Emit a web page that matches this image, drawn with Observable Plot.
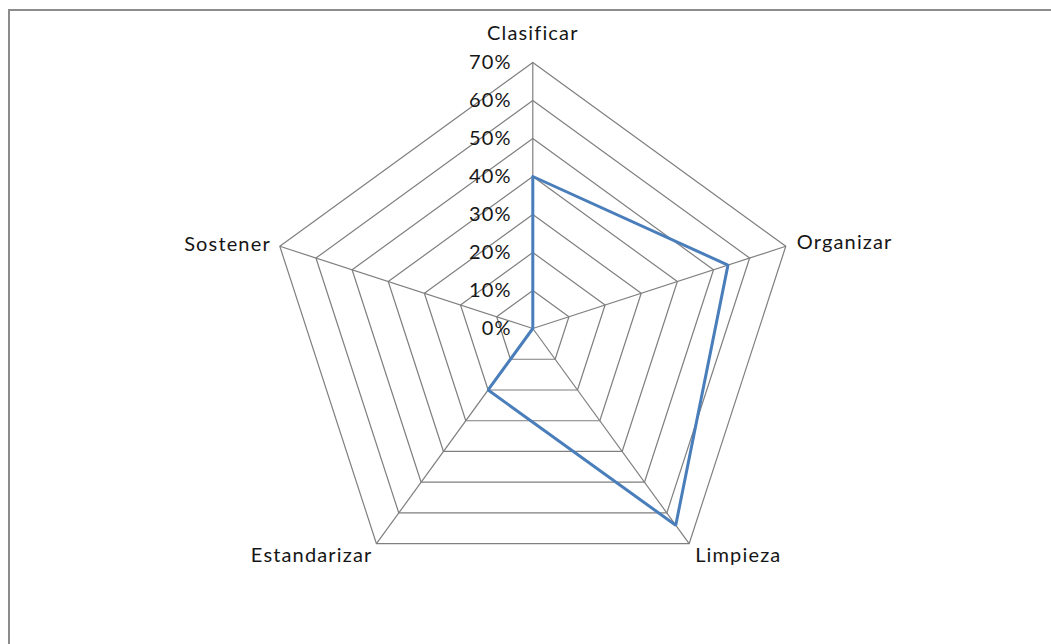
<!DOCTYPE html>
<html>
<head>
<meta charset="utf-8">
<script src="https://cdn.jsdelivr.net/npm/d3@7"></script>
<script src="https://cdn.jsdelivr.net/npm/@observablehq/plot@0.6"></script>
<style>
  html, body { margin: 0; padding: 0; background: #fff; }
  #chart svg { display: block; }
</style>
</head>
<body>
<div id="chart"></div>
<script>
// Radar chart: 5S audit results per pillar
const categories = ["Clasificar", "Organizar", "Limpieza", "Estandarizar", "Sostener"];
const values = [0.40, 0.54, 0.64, 0.20, 0.00];
const ringLevels = [0, 0.1, 0.2, 0.3, 0.4, 0.5, 0.6, 0.7];
const ringLabels = ["0%", "10%", "20%", "30%", "40%", "50%", "60%", "70%"];

// Layout
const W = 1051, H = 644;
const cx = 532.3, cy = 328, radiusPx = 266, maxValue = 0.7;
const k = radiusPx / maxValue; // pixels per unit
const fontFamily = "Lato, 'Open Sans', sans-serif";

// Label placement around each spoke: [anchor, dx, dy]
const labelPlacement = [
  ["middle", 0, -29],
  ["start", 11, -4],
  ["start", 6, 12],
  ["end", -4, 12],
  ["end", -9, -2]
];

const n = categories.length;
const angle = (i) => (Math.PI / 2) - (2 * Math.PI * i) / n;
const polar = (i, v) => ({x: v * Math.cos(angle(i)), y: v * Math.sin(angle(i))});

// Concentric pentagons
const rings = ringLevels.filter((d) => d > 0).flatMap((level) =>
  d3.range(n + 1).map((i) => ({level, ...polar(i % n, level)}))
);

// Spokes
const spokes = categories.map((c, i) => ({name: c, ...polar(i, maxValue)}));

// Series polygon
const series = d3.range(n + 1).map((i) => ({name: categories[i % n], value: values[i % n], ...polar(i % n, values[i % n])}));

// Ring value labels along the top spoke
const tickData = ringLevels.map((v, j) => ({label: ringLabels[j], ...polar(0, v)}));

// Category labels at the outer vertices
const catLabels = categories.map((c, i) => ({
  name: c,
  anchor: labelPlacement[i][0],
  dx: labelPlacement[i][1],
  dy: labelPlacement[i][2],
  ...polar(i, maxValue)
}));

const labelMarks = catLabels.map((d) =>
  Plot.text([d], {
    x: "x", y: "y", text: "name",
    textAnchor: d.anchor, dx: d.dx, dy: d.dy,
    fill: "#161616", fontSize: 20
  })
);

const gridColor = "#7f7f7f";

const chart = Plot.plot({
  width: W,
  height: H,
  margin: 0,
  style: {fontFamily, background: "#fff", letterSpacing: "1.15px"},
  x: {domain: [-cx / k, (W - cx) / k], range: [0, W], axis: null},
  y: {domain: [-(H - cy) / k, cy / k], range: [H, 0], axis: null},
  marks: [
    Plot.frame({insetLeft: 8.5, insetTop: 9.5, insetRight: -10, insetBottom: -10, stroke: "#8c8c8c", strokeWidth: 2}),
    Plot.link(spokes, {x1: 0, y1: 0, x2: "x", y2: "y", stroke: gridColor, strokeWidth: 1.2}),
    Plot.line(rings, {x: "x", y: "y", z: "level", stroke: gridColor, strokeWidth: 1.2}),
    Plot.line(series, {x: "x", y: "y", stroke: "#4a7ebb", strokeWidth: 3, strokeLinejoin: "miter"}),
    Plot.text(tickData, {x: "x", y: "y", text: "label", textAnchor: "end", dx: -21, fill: "#161616", fontSize: 20}),
    ...labelMarks
  ]
});

document.getElementById("chart").appendChild(chart);
</script>
</body>
</html>
